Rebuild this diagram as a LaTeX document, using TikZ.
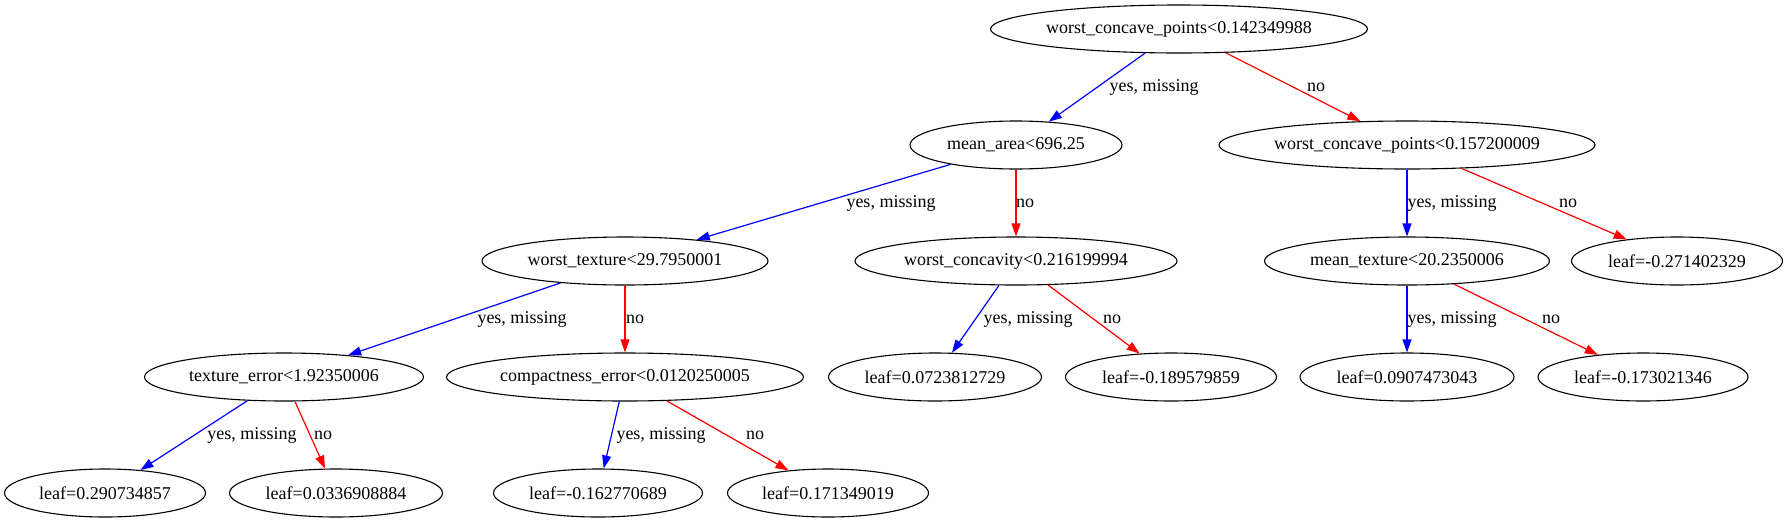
\documentclass[tikz,border=0pt]{standalone}
\usepackage{fontspec}
\setmainfont{Liberation Serif}
\usetikzlibrary{arrows.meta,shapes.geometric}
\begin{document}
\begin{tikzpicture}[x=1pt,y=-1pt,
  tn/.style={ellipse, draw, line width=1.1pt, minimum height=48pt, inner sep=0pt,
    minimum width=#1, font=\fontsize{18}{21}\selectfont},
  lbl/.style={inner sep=0pt, font=\fontsize{18}{21}\selectfont},
  yesedge/.style={draw=blue, line width=1.2pt, -{Triangle[length=13pt,width=9pt]}},
  noedge/.style={draw=red, line width=1.2pt, -{Triangle[length=13pt,width=9pt]}}]
\useasboundingbox (0,0) rectangle (1788,523);
\fill[white] (0,0) rectangle (1788,523);
% row 0
\node[tn=377pt] (n0) at (1179,29) {worst\_concave\_points<0.142349988};
% row 1
\node[tn=212pt] (n1) at (1016,145) {mean\_area<696.25};
\node[tn=376pt] (n2) at (1407,145) {worst\_concave\_points<0.157200009};
% row 2
\node[tn=286pt] (n3) at (625,261) {worst\_texture<29.7950001};
\node[tn=322pt] (n4) at (1016,261) {worst\_concavity<0.216199994};
\node[tn=285pt] (n5) at (1407,261) {mean\_texture<20.2350006};
\node[tn=211pt] (n6) at (1677,261) {leaf=-0.271402329};
% row 3
\node[tn=279pt] (n7) at (284,377) {texture\_error<1.92350006};
\node[tn=357pt] (n8) at (625,377) {compactness\_error<0.0120250005};
\node[tn=213pt] (n9) at (935,377) {leaf=0.0723812729};
\node[tn=211pt] (n10) at (1171,377) {leaf=-0.189579859};
\node[tn=214pt] (n11) at (1407,377) {leaf=0.0907473043};
\node[tn=210pt] (n12) at (1643,377) {leaf=-0.173021346};
% row 4
\node[tn=201pt] (n13) at (105,493) {leaf=0.290734857};
\node[tn=213pt] (n14) at (336,493) {leaf=0.0336908884};
\node[tn=209pt] (n15) at (598,493) {leaf=-0.162770689};
\node[tn=201pt] (n16) at (828,493) {leaf=0.171349019};
% edges
\draw[yesedge] (n0) -- (n1);
\draw[noedge] (n0) -- (n2);
\draw[yesedge] (n1) -- (n3);
\draw[noedge] (n1) -- (n4);
\draw[yesedge] (n2) -- (n5);
\draw[noedge] (n2) -- (n6);
\draw[yesedge] (n3) -- (n7);
\draw[noedge] (n3) -- (n8);
\draw[yesedge] (n4) -- (n9);
\draw[noedge] (n4) -- (n10);
\draw[yesedge] (n5) -- (n11);
\draw[noedge] (n5) -- (n12);
\draw[yesedge] (n7) -- (n13);
\draw[noedge] (n7) -- (n14);
\draw[yesedge] (n8) -- (n15);
\draw[noedge] (n8) -- (n16);
% labels
\node[lbl] (l1) at (1154,87) {yes, missing};
\node[lbl] (l2) at (1316,87) {no};
\node[lbl] (l3) at (891,203) {yes, missing};
\node[lbl] (l4) at (1025,203) {no};
\node[lbl] (l5) at (1452,203) {yes, missing};
\node[lbl] (l6) at (1568,203) {no};
\node[lbl] (l7) at (522,319) {yes, missing};
\node[lbl] (l8) at (635,319) {no};
\node[lbl] (l9) at (1028,319) {yes, missing};
\node[lbl] (l10) at (1112,319) {no};
\node[lbl] (l11) at (1452,319) {yes, missing};
\node[lbl] (l12) at (1551,319) {no};
\node[lbl] (l13) at (252,435) {yes, missing};
\node[lbl] (l14) at (323,435) {no};
\node[lbl] (l15) at (661,435) {yes, missing};
\node[lbl] (l16) at (755,435) {no};
\end{tikzpicture}
\end{document}
